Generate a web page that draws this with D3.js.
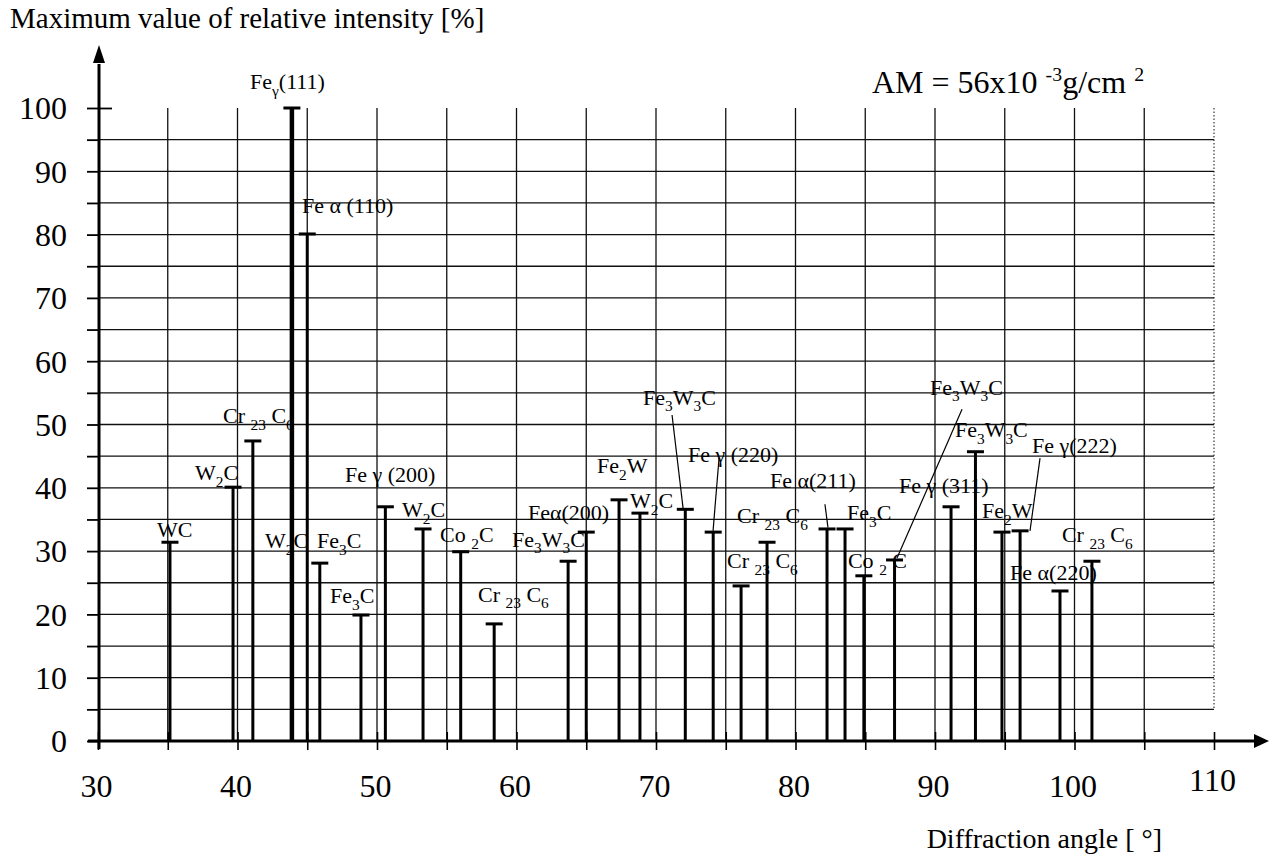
<!DOCTYPE html>
<html>
<head>
<meta charset="utf-8">
<script src="https://cdn.jsdelivr.net/npm/d3@7"></script>
<style>
  body { margin: 0; background: #fff; }
  svg text { font-family: "Liberation Serif", "Times New Roman", serif; fill: #000; }
</style>
</head>
<body>
<div id="chart-area"></div>
<script>
const MARGIN = { LEFT: 98, RIGHT: 61, TOP: 108, BOTTOM: 119 }
const WIDTH = 1275 - MARGIN.LEFT - MARGIN.RIGHT
const HEIGHT = 860 - MARGIN.TOP - MARGIN.BOTTOM

// peaks: phase, diffraction angle [deg], max relative intensity [%]
const phases = ["WC", "W2C", "Cr23C6", "Fe(111)", "Fe(110)", "Fe3C", "Fe3C", "Fe(200)", "W2C", "Co2C",
  "Cr23C6", "Fe3W3C", "Fe(200)", "Fe2W", "W2C", "Fe3W3C", "Fe(220)", "Cr23C6", "Cr23C6", "Fe(211)",
  "Fe3C", "Co2C", "Fe3W3C", "Fe(311)", "Fe3W3C", "Fe2W", "Fe(222)", "Fe(220)", "Cr23C6"]
const angles = [35.16, 39.68, 41.1, 43.9, 45.0, 45.9, 48.85, 50.6, 53.3, 56.0,
  58.4, 63.7, 65.0, 67.35, 68.85, 72.1, 74.1, 76.1, 77.96, 82.26,
  83.55, 84.9, 87.1, 91.15, 92.9, 94.8, 96.1, 98.96, 101.25]
const intensities = [31.4, 40.1, 47.4, 100, 80.1, 28.1, 19.9, 37.0, 33.5, 29.9,
  18.5, 28.4, 33.0, 38.1, 36.0, 36.6, 33.0, 24.5, 31.4, 33.5,
  33.5, 26.1, 28.6, 37.0, 45.7, 33.0, 33.2, 23.7, 28.4]

// peak labels (_{..} = subscript), anchored at angle / intensity
const labelTexts = ["WC", "W_{2}C", "Cr _{23} C_{6}", "Fe_{γ}(111)", "Fe α (110)", "W_{2}C", "Fe_{3}C", "Fe_{3}C",
  "Fe γ (200)", "W_{2}C", "Co _{2}C", "Cr _{23} C_{6}", "Fe_{3}W_{3}C", "Feα(200)", "Fe_{2}W", "W_{2}C",
  "Fe_{3}W_{3}C", "Fe γ (220)", "Cr _{23} C_{6}", "Cr _{23} C_{6}", "Fe α(211)", "Fe_{3}C", "Co _{2} C",
  "Fe_{3}W_{3}C", "Fe γ (311)", "Fe_{3}W_{3}C", "Fe_{2}W", "Fe γ(222)", "Cr _{23} C_{6}", "Fe α(220)"]
const labelAngles = [34.23, 36.95, 38.96, 40.9, 44.62, 41.97, 45.7, 46.63,
  47.71, 51.79, 54.52, 57.24, 59.68, 60.82, 65.77, 68.14,
  69.07, 72.29, 75.81, 75.09, 78.17, 83.69, 83.76,
  89.64, 87.42, 91.43, 93.37, 96.95, 99.1, 95.38]
const labelIntensities = [32.2, 41.2, 50.2, 103.0, 83.4, 30.5, 30.5, 21.8,
  40.9, 35.4, 31.4, 22.0, 30.7, 34.9, 42.3, 36.8,
  53.1, 44.1, 34.4, 27.3, 40.0, 34.9, 27.3,
  54.7, 39.2, 48.0, 35.2, 45.5, 31.4, 25.4]

// leader lines: [angle1, intensity1, angle2, intensity2]
const leaders = [
  [71.15, 51.5, 71.94, 36.8],
  [74.52, 44.7, 74.09, 33.2],
  [82.11, 37.4, 82.33, 33.7],
  [91.94, 52.4, 87.28, 28.9],
  [97.53, 44.7, 96.81, 33.2]
]

const xTickLabels = [30, 40, 50, 60, 70, 80, 90, 100, 110]
const yTickLabels = [0, 10, 20, 30, 40, 50, 60, 70, 80, 90, 100]

const peaks = angles.map((a, i) => ({ phase: phases[i], angle: a, value: intensities[i] }))
const labels = labelTexts.map((t, i) => ({ text: t, angle: labelAngles[i], value: labelIntensities[i] }))

const svg = d3.select("#chart-area").append("svg")
  .attr("width", WIDTH + MARGIN.LEFT + MARGIN.RIGHT)
  .attr("height", HEIGHT + MARGIN.TOP + MARGIN.BOTTOM)

const g = svg.append("g")
  .attr("transform", `translate(${MARGIN.LEFT}, ${MARGIN.TOP})`)

const x = d3.scaleLinear().domain([30, 110]).range([0, WIDTH])
const y = d3.scaleLinear().domain([0, 100]).range([HEIGHT, 0])

// grid
const grid = g.append("g").attr("stroke", "#111").attr("stroke-width", 1.3)
grid.selectAll(".hgrid")
  .data(d3.range(5, 100, 5))
  .enter().append("line")
    .attr("x1", 0).attr("x2", x(110))
    .attr("y1", d => y(d)).attr("y2", d => y(d))
grid.selectAll(".vgrid")
  .data(d3.range(35, 110, 5))
  .enter().append("line")
    .attr("x1", d => x(d)).attr("x2", d => x(d))
    .attr("y1", y(100)).attr("y2", y(0))
grid.append("line")
  .attr("x1", x(110)).attr("x2", x(110))
  .attr("y1", y(100)).attr("y2", y(5))
  .attr("stroke-width", 1)
  .attr("stroke-dasharray", "1.5,2")

// axes (ticks + labels)
const xAxisCall = d3.axisBottom(x)
  .tickValues(d3.range(30, 111, 5))
  .tickSize(9)
  .tickFormat(d => xTickLabels.includes(d) ? d : "")
const xAxisGroup = g.append("g")
  .attr("transform", `translate(0, ${HEIGHT})`)
  .call(xAxisCall)
xAxisGroup.select(".domain").remove()
xAxisGroup.selectAll(".tick line")
  .attr("y1", -9).attr("stroke", "#000").attr("stroke-width", 1.6)
xAxisGroup.selectAll(".tick text")
  .attr("y", d => d === 110 ? 50 : 56).attr("dy", null).attr("x", -2)
  .attr("font-size", 32)

const yAxisCall = d3.axisLeft(y)
  .tickValues(d3.range(0, 101, 5))
  .tickSize(11)
  .tickFormat(d => yTickLabels.includes(d) ? d : "")
const yAxisGroup = g.append("g").call(yAxisCall)
yAxisGroup.select(".domain").remove()
yAxisGroup.selectAll(".tick line")
  .attr("x2", d => d === 100 ? 14 : -11)
  .attr("x1", d => d === 100 ? -11 : 0)
  .attr("stroke", "#000").attr("stroke-width", 1.8)
yAxisGroup.selectAll(".tick text")
  .attr("x", -31).attr("dy", "0.34em")
  .attr("font-size", 32)

// axis lines with arrows
g.append("line")
  .attr("x1", -10).attr("x2", WIDTH + 42)
  .attr("y1", HEIGHT).attr("y2", HEIGHT)
  .attr("stroke", "#000").attr("stroke-width", 3)
g.append("path")
  .attr("d", `M${WIDTH + 40},${HEIGHT - 7}L${WIDTH + 55},${HEIGHT}L${WIDTH + 40},${HEIGHT + 7}Z`)
g.append("line")
  .attr("x1", 1).attr("x2", 1)
  .attr("y1", HEIGHT + 8).attr("y2", -44)
  .attr("stroke", "#000").attr("stroke-width", 3)
g.append("path")
  .attr("d", `M-5,-45L1,-63L7,-45Z`)

// peaks
const stems = g.append("g")
stems.selectAll(".stem")
  .data(peaks)
  .enter().append("line")
    .attr("x1", d => x(d.angle)).attr("x2", d => x(d.angle))
    .attr("y1", y(0)).attr("y2", d => y(d.value))
    .attr("stroke", "#000")
    .attr("stroke-width", d => d.value === 100 ? 4.5 : 3)
stems.selectAll(".cap")
  .data(peaks)
  .enter().append("line")
    .attr("x1", d => x(d.angle) - 8.5).attr("x2", d => x(d.angle) + 8.5)
    .attr("y1", d => y(d.value)).attr("y2", d => y(d.value))
    .attr("stroke", "#000").attr("stroke-width", 3)

// leader lines
g.append("g").selectAll("line")
  .data(leaders)
  .enter().append("line")
    .attr("x1", d => x(d[0])).attr("y1", d => y(d[1]))
    .attr("x2", d => x(d[2])).attr("y2", d => y(d[3]))
    .attr("stroke", "#000").attr("stroke-width", 1.2)

// rich text with _{sub} and ^{sup}
function rich(text, str, size) {
  const parts = str.split(/([_^]\{[^}]*\})/)
  let shift = 0
  parts.forEach(p => {
    if (!p) return
    let target = 0, fs = size, t = p
    if (p[0] === "_" && p[1] === "{") { target = size * 0.3; fs = size * 0.7; t = p.slice(2, -1) }
    else if (p[0] === "^" && p[1] === "{") { target = -size * 0.38; fs = size * 0.62; t = p.slice(2, -1) }
    text.append("tspan")
      .attr("dy", target - shift)
      .attr("font-size", fs)
      .text(t)
    shift = target
  })
}

const labelGroup = g.append("g")
labels.forEach(d => {
  const t = labelGroup.append("text")
    .attr("x", x(d.angle)).attr("y", y(d.value))
    .attr("font-size", 22)
    .style("white-space", "pre")
  rich(t, d.text, 22)
})

// annotation
const am = svg.append("text")
  .attr("x", 872).attr("y", 93)
  .attr("font-size", 32)
  .style("white-space", "pre")
rich(am, "AM = 56x10 ^{-3}g/cm ^{2}", 32)

// axis titles
svg.append("text")
  .attr("x", 10).attr("y", 28)
  .attr("font-size", 29)
  .text("Maximum value of relative intensity [%]")

svg.append("text")
  .attr("x", 1162).attr("y", 848)
  .attr("text-anchor", "end")
  .attr("font-size", 28)
  .text("Diffraction angle [ °]")
</script>
</body>
</html>
